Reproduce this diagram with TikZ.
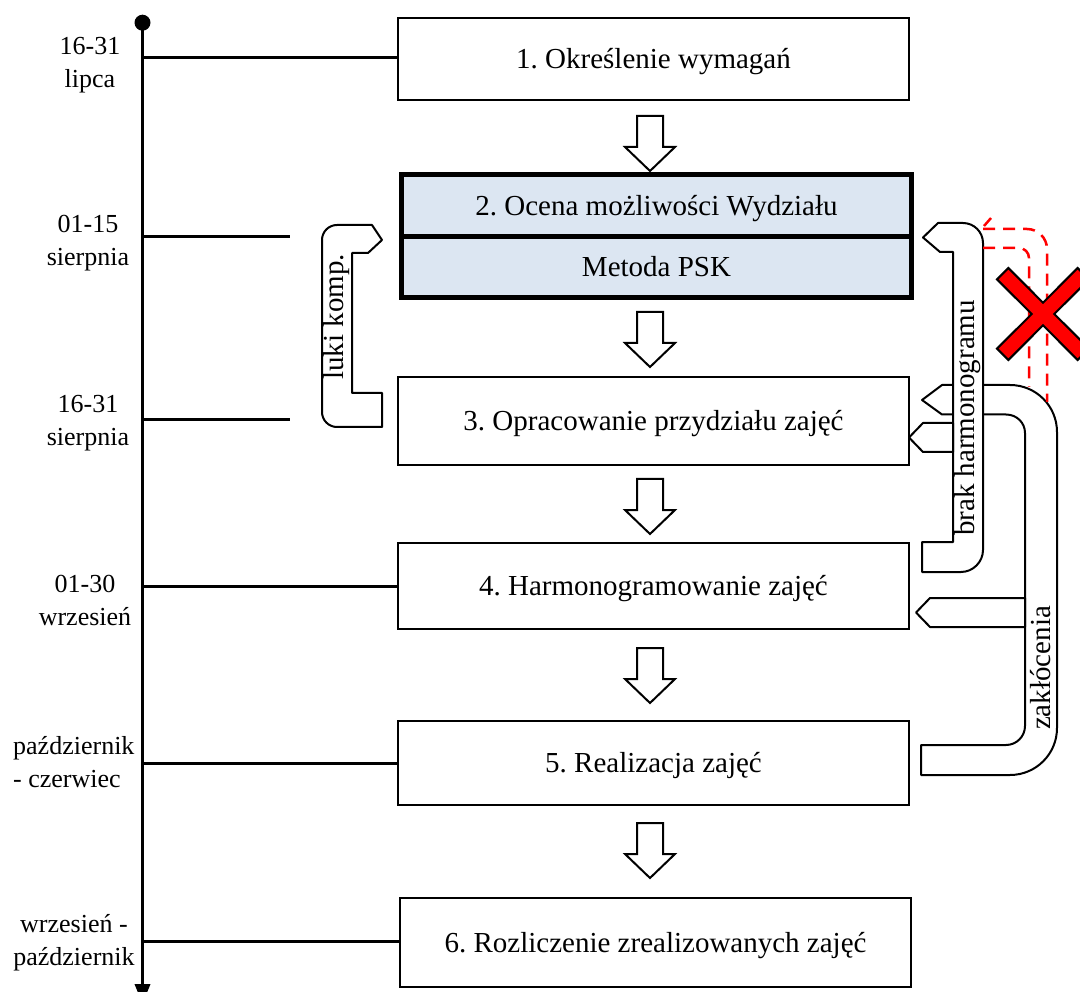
\documentclass[tikz,border=0pt]{standalone}
\usepackage{fontspec}
\setmainfont{Liberation Serif}
\usetikzlibrary{calc,arrows.meta}
\definecolor{pskblue}{RGB}{220,230,242}
\definecolor{xred}{RGB}{255,0,0}
\frenchspacing
\begin{document}
\begin{tikzpicture}[x=1pt,y=-1pt,
  stage/.style={draw, line width=2pt, minimum width=511pt, inner sep=0pt,
    text height=19pt, text depth=0pt, font=\fontsize{29}{35}\selectfont},
  pskbox/.style={draw, line width=5pt, fill=pskblue, minimum width=510pt,
    inner sep=0pt, text height=19pt, text depth=0pt, font=\fontsize{29}{35}\selectfont},
  datelbl/.style={font=\fontsize{26}{33}\selectfont, align=center, inner sep=0pt},
  tick/.style={line width=3pt},
  timeline/.style={line width=3.5pt, -{Triangle[width=15pt,length=20pt]}},
  feedback/.style={draw, fill=white, line width=2pt, line join=round},
  sidelbl/.style={font=\fontsize{29}{35}\selectfont, rotate=90, inner sep=0pt},
  reddash/.style={draw=xred, line width=2.5pt, dash pattern=on 12pt off 8pt},
  downarrow/.pic={\draw[fill=white, line width=2pt]
    (-13,0) -- (13,0) -- (13,31) -- (25,31) -- (0,55) -- (-25,31) -- (-13,31) -- cycle;}
]
\clip (0,0) rectangle (1080,992);
\useasboundingbox (0,0) rectangle (1080,992);

% process stages
\node[stage, minimum height=82pt] (b1) at (653.5,59) {1. Określenie wymagań};
\node[pskbox, minimum height=62.5pt] (b2a) at (656.5,205.75) {2. Ocena możliwości Wydziału};
\node[pskbox, minimum height=60.5pt] (b2b) at (656.5,267.25) {Metoda PSK};
\node[stage, minimum height=88pt] (b3) at (653.5,421) {3. Opracowanie przydziału zajęć};
\node[stage, minimum height=86pt] (b4) at (653.5,586) {4. Harmonogramowanie zajęć};
\node[stage, minimum height=84pt] (b5) at (653.5,763) {5. Realizacja zajęć};
\node[stage, minimum height=89pt] (b6) at (655.5,942.5) {6. Rozliczenie zrealizowanych zajęć};

% hollow arrows between stages
\pic at (650,116) {downarrow};
\pic at (650,312) {downarrow};
\pic at (650,479) {downarrow};
\pic at (650,648) {downarrow};
\pic at (650,823) {downarrow};

% time axis
\coordinate (t0) at (142.5,22.7);
\coordinate (t1) at (142.5,1004);
\draw[timeline] (t0) -- (t1);
\fill (t0) circle[radius=8pt];

\coordinate (k1) at (144,58);
\coordinate (k2) at (144,237);
\coordinate (k3) at (144,420);
\coordinate (k4) at (144,586);
\coordinate (k5) at (144,763);
\coordinate (k6) at (144,941);
\coordinate (e2) at (290,237);
\coordinate (e3) at (290,420);
\draw[tick] (k1) -- (k1 -| b1.west);
\draw[tick] (k2) -- (e2);
\draw[tick] (k3) -- (e3);
\draw[tick] (k4) -- (k4 -| b4.west);
\draw[tick] (k5) -- (k5 -| b5.west);
\draw[tick] (k6) -- (k6 -| b6.west);

\node[datelbl] (l1) at (90,65) {16-31\\lipca};
\node[datelbl] (l2) at (88,243) {01-15\\sierpnia};
\node[datelbl] (l3) at (88,423) {16-31\\sierpnia};
\node[datelbl] (l4) at (85,600) {01-30\\wrzesień};
\node[datelbl, align=left, anchor=west] (l5) at (13,762) {październik\\- czerwiec};
\node[datelbl] (l6) at (74,943) {wrzesień -\\październik};

% feedback: disturbances, from stage 5 back to stages 3 and 4
\draw[feedback] (922,400) -- (942,385) -- (1010,385)
  .. controls (1036,385) and (1057,406) .. (1057,432) -- (1057,728)
  .. controls (1057,754) and (1036,775) .. (1010,775) -- (921,775) -- (921,745) -- (1006,745)
  .. controls (1016.5,745) and (1025,736.5) .. (1025,726) -- (1025,433)
  .. controls (1025,422.5) and (1016.5,414.5) .. (1006,414.5) -- (942,414.5) -- cycle;
\draw[feedback] (1025,598) -- (930,598) -- (916,612.5) -- (930,627) -- (1025,627) -- cycle;
\node[sidelbl] (lz) at (1041,668) {zakłócenia};

% feedback: missing timetable, from stage 4 back to stages 3 and 2
\draw[feedback] (923,237.5) -- (938,223) -- (963,223)
  .. controls (974,223) and (983,232) .. (983,243) -- (983,550)
  .. controls (983,562) and (973,572) .. (961,572) -- (922,572) -- (922,542) -- (953,542)
  -- (953,252) -- (940,252) -- cycle;
\draw[feedback] (953,423) -- (923,423) -- (909,437.5) -- (923,452) -- (953,452) -- cycle;
\node[sidelbl] (lb) at (968,418) {brak harmonogramu};

% feedback: competence gaps, from stage 3 back to stage 2
\draw[feedback] (382,240) -- (372,225) -- (337,225)
  .. controls (328.7,225) and (322,231.7) .. (322,240) -- (322,412)
  .. controls (322,420.3) and (328.7,427) .. (337,427) -- (382,427) -- (382,393)
  -- (352,393) -- (352,253) -- (368,253) -- cycle;
\node[sidelbl] (ll) at (337,317) {luki komp.};

% rejected route back to stage 2
\draw[reddash] (984,226) -- (991,218);
\draw[reddash] (983,229) -- (1027,229) .. controls (1038,229) and (1047,238) .. (1047,249) -- (1047,402);
\draw[reddash] (983,248) -- (1019,248) .. controls (1024.5,248) and (1029,252.5) .. (1029,258) -- (1029,387);
\draw[fill=xred, line width=2pt, line join=miter]
  (1043,302.7) -- (1077.6,268.0) -- (1089.0,279.4) -- (1054.3,314) -- (1089.0,348.6)
  -- (1077.6,360.0) -- (1043,325.3) -- (1008.4,360.0) -- (997.0,348.6) -- (1031.7,314)
  -- (997.0,279.4) -- (1008.4,268.0) -- cycle;
\end{tikzpicture}
\end{document}
